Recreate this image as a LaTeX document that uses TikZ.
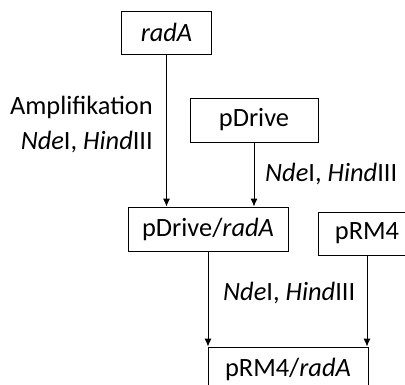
\documentclass[tikz,border=0pt]{standalone}
\usepackage{fontspec}
\setmainfont{Carlito}
\usetikzlibrary{positioning,arrows.meta}

\begin{document}
\begin{tikzpicture}[
  x=1bp, y=-1bp,
  box/.style={draw, line width=0.9bp, minimum height=44bp, inner sep=0pt, font=\fontsize{26.5}{35}\selectfont},
  arr/.style={-{Latex[length=8bp,width=7bp]}, line width=0.9bp},
  lbl/.style={font=\fontsize{26.5}{35}\selectfont, inner sep=0pt},
]
\useasboundingbox (0,0) rectangle (405,385);
\clip (0,0) rectangle (405,385);

% Constructs
\node[box, minimum width=90bp, minimum height=43bp] (rada) at (166.5,32.5) {\textit{radA}};
\node[box, minimum width=128bp] (pdrive) at (254,120) {pDrive};
\node[box, minimum width=160bp] (pdriverada) at (208,229) {pDrive/\textit{radA}};
\node[box, minimum width=98bp, minimum height=43bp] (prm4) at (367,233.5) {pRM4};
\node[box, minimum width=160bp] (prm4rada) at (288,369) {pRM4/\textit{radA}};

% Cloning steps
\draw[arr] (rada) -- (rada |- pdriverada.north);
\draw[arr] (pdrive) -- (pdrive |- pdriverada.north);
\draw[arr] (pdriverada) -- (pdriverada |- prm4rada.north);
\draw[arr] (prm4) -- (prm4 |- prm4rada.north);

% Enzymes
\node[lbl, align=right, anchor=east] (amp) at (153,124.5) {Amplifikation\\\textit{Nde}I, \textit{Hind}III};
\node[lbl, anchor=west] (enz1) at (265,174) {\textit{Nde}I, \textit{Hind}III};
\node[lbl, anchor=west] (enz2) at (223,293) {\textit{Nde}I, \textit{Hind}III};
\end{tikzpicture}
\end{document}
